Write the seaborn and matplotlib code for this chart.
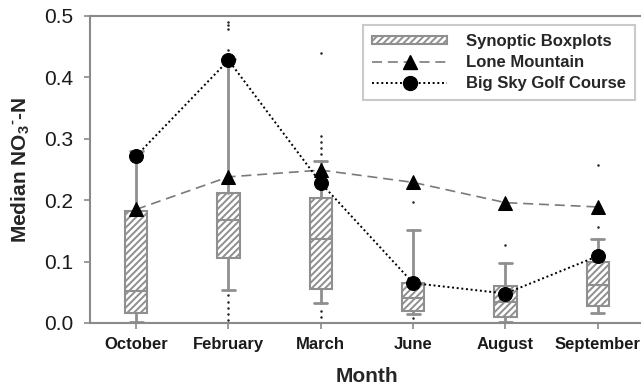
import matplotlib
matplotlib.use("Agg")
import matplotlib.pyplot as plt
import numpy as np
import seaborn as sns
from matplotlib.patches import Patch
from matplotlib.lines import Line2D

# Sampling months
months = ["October", "February", "March", "June", "August", "September"]

# Synoptic sampling: five-number summaries per month
box_q1 = [0.016, 0.106, 0.055, 0.020, 0.010, 0.028]
box_median = [0.052, 0.167, 0.136, 0.041, 0.035, 0.062]
box_q3 = [0.183, 0.211, 0.203, 0.065, 0.061, 0.099]
whisker_low = [0.002, 0.054, 0.032, 0.015, 0.002, 0.016]
whisker_high = [0.280, 0.430, 0.264, 0.151, 0.098, 0.136]
outliers = [
    [],
    [0.491, 0.485, 0.479, 0.445, 0.045, 0.035, 0.025, 0.015, 0.005],
    [0.440, 0.305, 0.295, 0.285, 0.275, 0.020, 0.010],
    [0.197, 0.008],
    [0.127],
    [0.257, 0.157],
]

# Fixed-station medians
lone_mountain = [0.185, 0.238, 0.249, 0.229, 0.196, 0.189]
big_sky_golf = [0.272, 0.428, 0.228, 0.065, 0.048, 0.109]

y_ticks = [0.0, 0.1, 0.2, 0.3, 0.4, 0.5]

sns.set_style("white")
plt.rcParams["font.family"] = ["Liberation Sans", "DejaVu Sans"]
plt.rcParams["mathtext.fontset"] = "custom"
plt.rcParams["mathtext.rm"] = "Liberation Sans:bold"
plt.rcParams["mathtext.bf"] = "Liberation Sans:bold"
plt.rcParams["hatch.linewidth"] = 1.4

GRAY = "#8f8f8f"
SPINE = "#8a8a8a"
HATCH = "/////"

fig = plt.figure(figsize=(6.41, 3.87), dpi=100)
ax = fig.add_axes([90 / 641, 64 / 387, 554 / 641, 307 / 387])

pos = np.arange(len(months))

stats = []
for i in range(len(months)):
    stats.append(dict(med=box_median[i], q1=box_q1[i], q3=box_q3[i],
                      whislo=whisker_low[i], whishi=whisker_high[i],
                      fliers=outliers[i], label=months[i]))

ax.bxp(stats, positions=pos, widths=0.24, patch_artist=True, showfliers=True,
       capwidths=0.14,
       boxprops=dict(facecolor="white", edgecolor=GRAY, linewidth=1.5, hatch=HATCH),
       medianprops=dict(color=GRAY, linewidth=1.5),
       whiskerprops=dict(color=GRAY, linewidth=2),
       capprops=dict(color=GRAY, linewidth=2),
       flierprops=dict(marker="o", markersize=1.8, markerfacecolor="#222222",
                       markeredgecolor="none"))

# Station series
sns.lineplot(x=pos, y=lone_mountain, ax=ax, color="#7a7a7a", linewidth=1.2,
             linestyle=(0, (6, 3.5)), marker="^", markersize=10.5,
             markerfacecolor="black", markeredgecolor="black", zorder=4)
sns.lineplot(x=pos, y=big_sky_golf, ax=ax, color="black", linewidth=1.4,
             linestyle=(0, (1, 1.4)), marker="o", markersize=10,
             markerfacecolor="black", markeredgecolor="black", zorder=5)

ax.set_xlim(-0.5, 5.5)
ax.set_ylim(0, 0.5)
ax.set_xticks(pos)
ax.set_xticklabels(months, fontsize=12, fontweight="bold", color="#1a1a1a")
ax.set_yticks(y_ticks)
ax.set_yticklabels([f"{v:.1f}" for v in y_ticks], fontsize=15, color="#1a1a1a")
ax.tick_params(axis="both", direction="out", length=4, width=1.2, color=SPINE,
               bottom=True, left=True)
ax.tick_params(axis="x", pad=6)
ax.tick_params(axis="y", pad=8)

for side in ["left", "top", "bottom"]:
    ax.spines[side].set_color(SPINE)
    ax.spines[side].set_linewidth(1.5)
ax.spines["right"].set_visible(False)

ax.set_xlabel("Month", fontsize=15, fontweight="bold", labelpad=11)
ax.set_ylabel(r"Median NO$_{3}$$^{\text{-}}$-N", fontsize=15,
              fontweight="bold", labelpad=9)

handles = [
    Patch(facecolor="white", edgecolor=GRAY, hatch=HATCH, linewidth=1.5),
    Line2D([], [], color="#7a7a7a", linewidth=1.2, linestyle=(0, (6, 3.5)),
           marker="^", markersize=10.5, markerfacecolor="black",
           markeredgecolor="black"),
    Line2D([], [], color="black", linewidth=1.4, linestyle=(0, (1, 1.4)),
           marker="o", markersize=10, markerfacecolor="black",
           markeredgecolor="black"),
]
labels = ["Synoptic Boxplots", "Lone Mountain", "Big Sky Golf Course"]
leg = ax.legend(handles, labels, loc="upper right",
                bbox_to_anchor=(635 / 641, 1 - 25 / 387),
                bbox_transform=fig.transFigure, borderaxespad=0,
                prop=dict(size=12, weight="bold"), handlelength=4.5,
                handleheight=0.35, handletextpad=1.1, labelspacing=0.35,
                borderpad=0.55, frameon=True, fancybox=False, numpoints=1)
leg.get_frame().set_edgecolor("#bdbdbd")
leg.get_frame().set_linewidth(1.5)

fig.savefig("out.png", dpi=100)
